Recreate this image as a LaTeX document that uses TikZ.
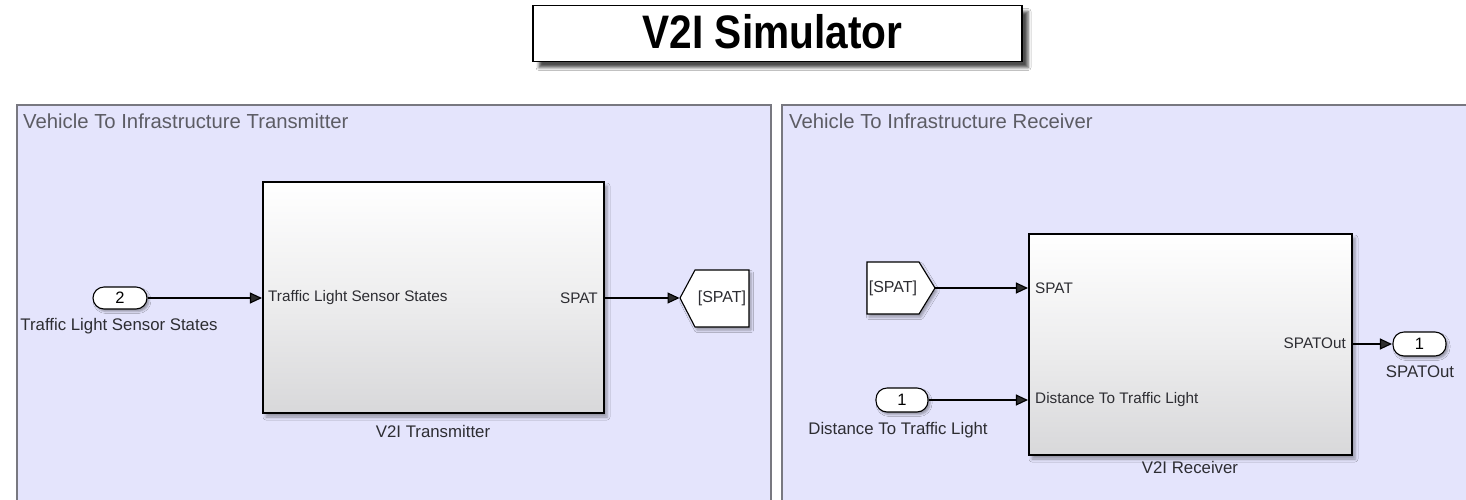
\documentclass[tikz,border=0pt]{standalone}
\usepackage{fontspec}
\setmainfont{Liberation Sans}
\usetikzlibrary{arrows.meta,shadows.blur}

\definecolor{panelfill}{RGB}{228,228,252}
\definecolor{panelline}{RGB}{120,120,128}
\definecolor{panelhead}{RGB}{92,92,100}
\definecolor{labeltext}{RGB}{45,45,50}
\definecolor{blockbottom}{RGB}{216,216,218}

\tikzset{
  panel/.style={fill=panelfill, draw=panelline, line width=1.4pt},
  panelhead/.style={anchor=base west, text=panelhead, inner sep=0pt,
    font=\fontsize{20.3}{23}\selectfont},
  block/.style={draw=black, line width=1.1pt, top color=white, bottom color=blockbottom,
    middle color=white!55!blockbottom, inner sep=0pt,
    blur shadow={shadow xshift=3pt, shadow yshift=-4pt, shadow blur radius=3pt, shadow opacity=35}},
  portlabel/.style={text=labeltext, inner sep=0pt, font=\fontsize{15.3}{17}\selectfont},
  blocklabel/.style={text=labeltext, inner sep=0pt, font=\fontsize{16.8}{19}\selectfont},
  pill/.style={draw=black, line width=1.1pt, fill=white, rounded corners=11pt,
    inner sep=0pt, font=\fontsize{16.5}{18}\selectfont,
    blur shadow={shadow xshift=2pt, shadow yshift=-2.5pt, shadow blur radius=2pt, shadow opacity=35}},
  tagshape/.style={draw=black, line width=1.1pt, fill=white,
    blur shadow={shadow xshift=2pt, shadow yshift=-3pt, shadow blur radius=2.5pt, shadow opacity=35}},
  tagtext/.style={text=labeltext, inner sep=0pt, font=\fontsize{16}{18}\selectfont},
  sig/.style={line width=1.1pt, -{Triangle[length=12pt,width=11pt]}, shorten >=0.5pt},
}

\begin{document}
\begin{tikzpicture}[x=1pt, y=-1pt]
\useasboundingbox (0,0) rectangle (1466,499);
\fill[white] (0,0) rectangle (1466,499);
\begin{scope}
\clip (0,0) rectangle (1466,499);

% ---- title banner ----
\node[draw=black, line width=1.3pt, fill=white, minimum width=489pt, minimum height=56pt,
      inner sep=0pt,
      blur shadow={shadow xshift=6pt, shadow yshift=-6pt, shadow blur radius=3pt, shadow opacity=70}]
  (title) at (777.5,33.5) {};
\node[inner sep=0pt, font=\fontsize{47}{50}\selectfont\bfseries] (titletext) at (772.5,32)
  {\scalebox{0.865}[1]{V2I Simulator}};

% ---- area panels ----
\draw[panel] (17,105) rectangle (771,520);
\draw[panel] (782,105) rectangle (1480,520);
\node[panelhead] (txhead) at (23,128) {Vehicle To Infrastructure Transmitter};
\node[panelhead] (rxhead) at (789,128) {Vehicle To Infrastructure Receiver};

% ---- transmitter side ----
\node[pill, minimum width=54pt, minimum height=22pt] (in2) at (120,298) {2};
\node[blocklabel] (in2lbl) at (119,326) {Traffic Light Sensor States};

\node[block, minimum width=341pt, minimum height=231pt] (tx) at (433.5,297.5) {};
\node[blocklabel] (txname) at (433,431) {V2I Transmitter};
\node[portlabel, anchor=west] (txin) at (268,298) {Traffic Light Sensor States};
\node[portlabel, anchor=east] (txout) at (598,298) {SPAT};

\coordinate (gototip) at (680,298);
\draw[tagshape] (gototip) -- (695,270) -- (749,270) -- (749,327) -- (695,327) -- cycle;
\node[tagtext] (gototext) at (722,298) {[SPAT]};

\draw[sig] (in2.east) -- (tx.west |- in2.east);
\draw[sig] (tx.east |- txout) -- (gototip);

% ---- receiver side ----
\coordinate (fromtip) at (935,288);
\draw[tagshape] (867,262) -- (919,262) -- (fromtip) -- (919,314) -- (867,314) -- cycle;
\node[tagtext] (fromtext) at (893,288) {[SPAT]};

\node[pill, minimum width=52pt, minimum height=24pt] (in1) at (902,400) {1};
\node[blocklabel] (in1lbl) at (898,430) {Distance To Traffic Light};

\node[block, minimum width=323pt, minimum height=221pt] (rx) at (1190.5,344.5) {};
\node[blocklabel] (rxname) at (1190,467) {V2I Receiver};
\node[portlabel, anchor=west] (rxspat) at (1035,288) {SPAT};
\node[portlabel, anchor=west] (rxdist) at (1035,400) {Distance To Traffic Light};
\node[portlabel, anchor=east] (rxout) at (1346,343.5) {SPATOut};

\node[pill, minimum width=53pt, minimum height=24pt] (out1) at (1419.5,344) {1};
\node[blocklabel] (out1lbl) at (1420,372) {SPATOut};

\draw[sig] (fromtip) -- (rx.west |- fromtip);
\draw[sig] (in1.east) -- (rx.west |- in1.east);
\draw[sig] (rx.east |- out1.west) -- (out1.west);
\end{scope}
\end{tikzpicture}
\end{document}
